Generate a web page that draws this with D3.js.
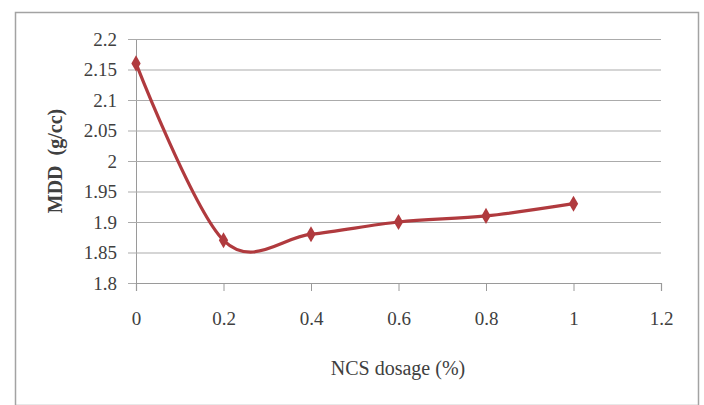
<!DOCTYPE html>
<html>
<head>
<meta charset="utf-8">
<script src="https://cdn.jsdelivr.net/npm/d3@7"></script>
<style>
  body { margin: 0; background: #fff; }
  text { font-family: "Liberation Serif", "DejaVu Serif", serif; fill: #404040; }
</style>
</head>
<body>
<svg id="chart" width="704" height="405"></svg>
<script>
// ---- Data ----
const dosage = [0, 0.2, 0.4, 0.6, 0.8, 1];
const mdd = [2.16, 1.87, 1.88, 1.90, 1.91, 1.93];
const xTicks = [0, 0.2, 0.4, 0.6, 0.8, 1, 1.2];
const yTicks = [1.8, 1.85, 1.9, 1.95, 2, 2.05, 2.1, 2.15, 2.2];

const svg = d3.select('#chart');
const plot = { left: 136, right: 661, top: 39, bottom: 283 };
const seriesColor = '#b03a3e';

// outer chart frame
svg.append('rect')
  .attr('x', 15.5).attr('y', 12.5)
  .attr('width', 683).attr('height', 393)
  .attr('fill', '#fff')
  .attr('stroke', '#a3a3a3').attr('stroke-width', 1.5);

const x = d3.scaleLinear().domain([0, 1.2]).range([plot.left, plot.right]);
const y = d3.scaleLinear().domain([1.8, 2.2]).range([plot.bottom, plot.top]);

// ---- Gridlines + y axis ----
const yAxis = d3.axisLeft(y)
  .tickValues(yTicks)
  .tickSize(8)
  .tickPadding(11)
  .tickFormat(d => d3.format('')(+d.toFixed(2)));

const gy = svg.append('g')
  .attr('transform', `translate(${plot.left},0)`)
  .call(yAxis);
gy.select('.domain').attr('stroke', '#9a9a9a');
gy.selectAll('.tick line')
  .attr('x2', plot.right - plot.left)
  .attr('x1', -8)
  .attr('stroke', '#ababab')
  .attr('stroke-width', 1.2);
gy.selectAll('.tick text')
  .attr('font-size', 19)
  .attr('font-family', '"Liberation Serif", serif')
  .attr('fill', '#404040');

// ---- x axis ----
const xAxis = d3.axisBottom(x)
  .tickValues(xTicks)
  .tickSize(8)
  .tickPadding(21)
  .tickFormat(d => d3.format('')(+d.toFixed(1)));

const gx = svg.append('g')
  .attr('transform', `translate(0,${plot.bottom})`)
  .call(xAxis);
gx.select('.domain').attr('stroke', '#9a9a9a').attr('stroke-width', 1.2);
gx.selectAll('.tick line').attr('stroke', '#9a9a9a');
gx.selectAll('.tick text')
  .attr('font-size', 19)
  .attr('font-family', '"Liberation Serif", serif')
  .attr('fill', '#404040');

// ---- Series ----
const pts = dosage.map((d, i) => [d, mdd[i]]);

const line = d3.line()
  .x(d => x(d[0]))
  .y(d => y(d[1]))
  .curve(d3.curveCardinal.tension(0));

svg.append('path')
  .datum(pts)
  .attr('d', line)
  .attr('fill', 'none')
  .attr('stroke', seriesColor)
  .attr('stroke-width', 3.2)
  .attr('stroke-linejoin', 'round');

svg.selectAll('.marker')
  .data(pts)
  .join('path')
  .attr('class', 'marker')
  .attr('d', d3.symbol(d3.symbolDiamond, 75))
  .attr('transform', d => `translate(${x(d[0])},${y(d[1])})`)
  .attr('fill', seriesColor);

// ---- Axis titles ----
svg.append('text')
  .attr('x', 398).attr('y', 375)
  .attr('text-anchor', 'middle')
  .attr('font-size', 20)
  .text('NCS dosage (%)');

svg.append('text')
  .attr('transform', 'translate(62,161) rotate(-90)')
  .attr('text-anchor', 'middle')
  .attr('font-size', 20)
  .attr('font-weight', 'bold')
  .style('white-space', 'pre')
  .text('MDD  (g/cc)');
</script>
</body>
</html>
